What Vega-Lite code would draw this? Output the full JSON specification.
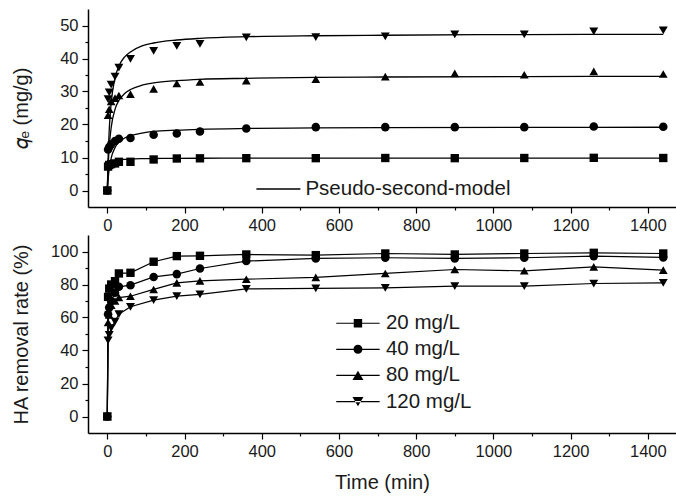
{
  "$schema": "https://vega.github.io/schema/vega-lite/v6.json",
  "padding": {"left": 10, "top": 9, "right": 0, "bottom": 0},
  "spacing": 1,
  "config": {
    "view": {"stroke": null},
    "font": "Liberation Sans",
    "axis": {
      "domainColor": "black", "domainWidth": 1.5, "tickColor": "black", "tickWidth": 1.2,
      "labelFont": "Liberation Sans", "labelFontSize": 16.5, "labelColor": "#1a1a1a", "labelOverlap": false, "labelBound": false,
      "titleFont": "Liberation Sans", "titleFontSize": 20, "titleFontWeight": "normal", "titleColor": "#1a1a1a",
      "grid": false, "labelPadding": 4, "tickSize": 6, "tickCount": 40
    }
  },
  "datasets": {
    "qe": [
      {"series":"20 mg/L","t":0,"value":0},{"series":"20 mg/L","t":2,"value":7.25},{"series":"20 mg/L","t":5,"value":7.75},{"series":"20 mg/L","t":10,"value":8.0},{"series":"20 mg/L","t":20,"value":8.2},{"series":"20 mg/L","t":30,"value":8.7},{"series":"20 mg/L","t":60,"value":8.7},{"series":"20 mg/L","t":120,"value":9.4},{"series":"20 mg/L","t":180,"value":9.7},{"series":"20 mg/L","t":240,"value":9.75},{"series":"20 mg/L","t":360,"value":9.8},{"series":"20 mg/L","t":540,"value":9.8},{"series":"20 mg/L","t":720,"value":9.85},{"series":"20 mg/L","t":900,"value":9.8},{"series":"20 mg/L","t":1080,"value":9.85},{"series":"20 mg/L","t":1260,"value":9.9},{"series":"20 mg/L","t":1440,"value":9.85},
      {"series":"40 mg/L","t":0,"value":0},{"series":"40 mg/L","t":2,"value":12.4},{"series":"40 mg/L","t":5,"value":13.2},{"series":"40 mg/L","t":10,"value":14.0},{"series":"40 mg/L","t":20,"value":15.0},{"series":"40 mg/L","t":30,"value":15.7},{"series":"40 mg/L","t":60,"value":15.9},{"series":"40 mg/L","t":120,"value":16.9},{"series":"40 mg/L","t":180,"value":17.3},{"series":"40 mg/L","t":240,"value":17.9},{"series":"40 mg/L","t":360,"value":18.8},{"series":"40 mg/L","t":540,"value":19.2},{"series":"40 mg/L","t":720,"value":19.2},{"series":"40 mg/L","t":900,"value":19.2},{"series":"40 mg/L","t":1080,"value":19.2},{"series":"40 mg/L","t":1260,"value":19.4},{"series":"40 mg/L","t":1440,"value":19.3},
      {"series":"80 mg/L","t":0,"value":0},{"series":"80 mg/L","t":2,"value":22.8},{"series":"80 mg/L","t":5,"value":24.6},{"series":"80 mg/L","t":10,"value":27.0},{"series":"80 mg/L","t":20,"value":28.0},{"series":"80 mg/L","t":30,"value":28.8},{"series":"80 mg/L","t":60,"value":29.2},{"series":"80 mg/L","t":120,"value":30.8},{"series":"80 mg/L","t":180,"value":32.4},{"series":"80 mg/L","t":240,"value":32.9},{"series":"80 mg/L","t":360,"value":33.3},{"series":"80 mg/L","t":540,"value":33.7},{"series":"80 mg/L","t":720,"value":34.5},{"series":"80 mg/L","t":900,"value":35.5},{"series":"80 mg/L","t":1080,"value":35.1},{"series":"80 mg/L","t":1260,"value":36.1},{"series":"80 mg/L","t":1440,"value":35.3},
      {"series":"120 mg/L","t":0,"value":0},{"series":"120 mg/L","t":2,"value":27.7},{"series":"120 mg/L","t":5,"value":29.7},{"series":"120 mg/L","t":10,"value":32.1},{"series":"120 mg/L","t":20,"value":34.5},{"series":"120 mg/L","t":30,"value":37.2},{"series":"120 mg/L","t":60,"value":39.9},{"series":"120 mg/L","t":120,"value":42.3},{"series":"120 mg/L","t":180,"value":43.8},{"series":"120 mg/L","t":240,"value":44.4},{"series":"120 mg/L","t":360,"value":46.4},{"series":"120 mg/L","t":540,"value":46.5},{"series":"120 mg/L","t":720,"value":46.7},{"series":"120 mg/L","t":900,"value":47.3},{"series":"120 mg/L","t":1080,"value":47.3},{"series":"120 mg/L","t":1260,"value":48.2},{"series":"120 mg/L","t":1440,"value":48.5}
    ],
    "fit": [
      {"series":"20 mg/L","t":0,"value":0},{"series":"20 mg/L","t":2,"value":4.96},{"series":"20 mg/L","t":5,"value":7.06},{"series":"20 mg/L","t":10,"value":8.23},{"series":"20 mg/L","t":20,"value":8.97},{"series":"20 mg/L","t":30,"value":9.24},{"series":"20 mg/L","t":45,"value":9.44},{"series":"20 mg/L","t":60,"value":9.54},{"series":"20 mg/L","t":90,"value":9.64},{"series":"20 mg/L","t":120,"value":9.69},{"series":"20 mg/L","t":180,"value":9.74},{"series":"20 mg/L","t":240,"value":9.77},{"series":"20 mg/L","t":360,"value":9.8},{"series":"20 mg/L","t":540,"value":9.82},{"series":"20 mg/L","t":720,"value":9.83},{"series":"20 mg/L","t":1080,"value":9.84},{"series":"20 mg/L","t":1440,"value":9.84},
      {"series":"40 mg/L","t":0,"value":0},{"series":"40 mg/L","t":2,"value":3.3},{"series":"40 mg/L","t":5,"value":6.6},{"series":"40 mg/L","t":10,"value":9.8},{"series":"40 mg/L","t":20,"value":13.0},{"series":"40 mg/L","t":30,"value":14.6},{"series":"40 mg/L","t":45,"value":15.9},{"series":"40 mg/L","t":60,"value":16.6},{"series":"40 mg/L","t":90,"value":17.4},{"series":"40 mg/L","t":120,"value":17.9},{"series":"40 mg/L","t":180,"value":18.3},{"series":"40 mg/L","t":240,"value":18.55},{"series":"40 mg/L","t":360,"value":18.8},{"series":"40 mg/L","t":540,"value":18.96},{"series":"40 mg/L","t":720,"value":19.05},{"series":"40 mg/L","t":1080,"value":19.13},{"series":"40 mg/L","t":1440,"value":19.17},
      {"series":"80 mg/L","t":0,"value":0},{"series":"80 mg/L","t":2,"value":6.8},{"series":"80 mg/L","t":5,"value":13.1},{"series":"80 mg/L","t":10,"value":19.05},{"series":"80 mg/L","t":20,"value":24.6},{"series":"80 mg/L","t":30,"value":27.3},{"series":"80 mg/L","t":45,"value":29.4},{"series":"80 mg/L","t":60,"value":30.6},{"series":"80 mg/L","t":90,"value":31.9},{"series":"80 mg/L","t":120,"value":32.6},{"series":"80 mg/L","t":180,"value":33.3},{"series":"80 mg/L","t":240,"value":33.7},{"series":"80 mg/L","t":360,"value":34.0},{"series":"80 mg/L","t":540,"value":34.3},{"series":"80 mg/L","t":720,"value":34.4},{"series":"80 mg/L","t":1080,"value":34.53},{"series":"80 mg/L","t":1440,"value":34.6},
      {"series":"120 mg/L","t":0,"value":0},{"series":"120 mg/L","t":2,"value":9.6},{"series":"120 mg/L","t":5,"value":18.4},{"series":"120 mg/L","t":10,"value":26.5},{"series":"120 mg/L","t":20,"value":34.1},{"series":"120 mg/L","t":30,"value":37.7},{"series":"120 mg/L","t":45,"value":40.5},{"series":"120 mg/L","t":60,"value":42.0},{"series":"120 mg/L","t":90,"value":43.8},{"series":"120 mg/L","t":120,"value":44.7},{"series":"120 mg/L","t":180,"value":45.6},{"series":"120 mg/L","t":240,"value":46.1},{"series":"120 mg/L","t":360,"value":46.6},{"series":"120 mg/L","t":540,"value":46.9},{"series":"120 mg/L","t":720,"value":47.05},{"series":"120 mg/L","t":1080,"value":47.26},{"series":"120 mg/L","t":1440,"value":47.34}
    ],
    "removal": [
      {"series":"20 mg/L","t":0,"value":0},{"series":"20 mg/L","t":2,"value":72.5},{"series":"20 mg/L","t":5,"value":77.5},{"series":"20 mg/L","t":10,"value":80.0},{"series":"20 mg/L","t":20,"value":82.0},{"series":"20 mg/L","t":30,"value":86.7},{"series":"20 mg/L","t":60,"value":87.1},{"series":"20 mg/L","t":120,"value":93.8},{"series":"20 mg/L","t":180,"value":97.2},{"series":"20 mg/L","t":240,"value":97.4},{"series":"20 mg/L","t":360,"value":98.2},{"series":"20 mg/L","t":540,"value":97.8},{"series":"20 mg/L","t":720,"value":98.8},{"series":"20 mg/L","t":900,"value":98.2},{"series":"20 mg/L","t":1080,"value":98.8},{"series":"20 mg/L","t":1260,"value":99.2},{"series":"20 mg/L","t":1440,"value":98.8},
      {"series":"40 mg/L","t":0,"value":0},{"series":"40 mg/L","t":2,"value":62},{"series":"40 mg/L","t":5,"value":66},{"series":"40 mg/L","t":10,"value":70},{"series":"40 mg/L","t":20,"value":75},{"series":"40 mg/L","t":30,"value":78.6},{"series":"40 mg/L","t":60,"value":79.6},{"series":"40 mg/L","t":120,"value":84.6},{"series":"40 mg/L","t":180,"value":86.3},{"series":"40 mg/L","t":240,"value":89.7},{"series":"40 mg/L","t":360,"value":94.2},{"series":"40 mg/L","t":540,"value":95.8},{"series":"40 mg/L","t":720,"value":96.2},{"series":"40 mg/L","t":900,"value":95.8},{"series":"40 mg/L","t":1080,"value":96.2},{"series":"40 mg/L","t":1260,"value":97.2},{"series":"40 mg/L","t":1440,"value":96.4},
      {"series":"80 mg/L","t":0,"value":0},{"series":"80 mg/L","t":2,"value":57},{"series":"80 mg/L","t":5,"value":61.5},{"series":"80 mg/L","t":10,"value":67.5},{"series":"80 mg/L","t":20,"value":70},{"series":"80 mg/L","t":30,"value":72.1},{"series":"80 mg/L","t":60,"value":72.9},{"series":"80 mg/L","t":120,"value":77.0},{"series":"80 mg/L","t":180,"value":81.0},{"series":"80 mg/L","t":240,"value":82.2},{"series":"80 mg/L","t":360,"value":83.2},{"series":"80 mg/L","t":540,"value":84.3},{"series":"80 mg/L","t":720,"value":86.7},{"series":"80 mg/L","t":900,"value":89.1},{"series":"80 mg/L","t":1080,"value":88.3},{"series":"80 mg/L","t":1260,"value":90.7},{"series":"80 mg/L","t":1440,"value":88.7},
      {"series":"120 mg/L","t":0,"value":0},{"series":"120 mg/L","t":2,"value":46.2},{"series":"120 mg/L","t":5,"value":49.5},{"series":"120 mg/L","t":10,"value":53.5},{"series":"120 mg/L","t":20,"value":57.5},{"series":"120 mg/L","t":30,"value":62},{"series":"120 mg/L","t":60,"value":66.5},{"series":"120 mg/L","t":120,"value":70.5},{"series":"120 mg/L","t":180,"value":73},{"series":"120 mg/L","t":240,"value":74},{"series":"120 mg/L","t":360,"value":77.3},{"series":"120 mg/L","t":540,"value":77.6},{"series":"120 mg/L","t":720,"value":77.9},{"series":"120 mg/L","t":900,"value":79.0},{"series":"120 mg/L","t":1080,"value":79.0},{"series":"120 mg/L","t":1260,"value":80.6},{"series":"120 mg/L","t":1440,"value":81.0}
    ]
  },
  "resolve": {
    "scale": {"shape": "independent", "stroke": "independent", "size": "independent"},
    "legend": {"shape": "independent", "stroke": "independent"}
  },
  "vconcat": [
    {
      "width": 588, "height": 198,
      "layer": [
        {
          "mark": {"type": "rule", "color": "black", "strokeWidth": 1.5},
          "encoding": {"y": {"datum": 55, "type": "quantitative"}}
        },
        {
          "data": {"name": "fit"},
          "mark": {"type": "line", "interpolate": "monotone", "strokeWidth": 1.3},
          "encoding": {
            "x": {"field": "t", "type": "quantitative", "scale": {"domain": [-50, 1473], "nice": false, "zero": false},
              "axis": {"values": [0,100,200,300,400,500,600,700,800,900,1000,1100,1200,1300,1400], "tickCount": 40, "labelOverlap": false, "labelExpr": "datum.value % 200 === 0 ? '' + datum.value : ''", "tickSize": {"condition": {"test": "datum.value % 200 !== 0", "value": 3}, "value": 6}, "title": null}},
            "y": {"field": "value", "type": "quantitative", "scale": {"domain": [-5, 55], "nice": false, "zero": false},
              "axis": {"values": [0,5,10,15,20,25,30,35,40,45,50], "tickCount": 40, "labelOverlap": false, "labelExpr": "datum.value % 10 === 0 ? '' + datum.value : ''", "tickSize": {"condition": {"test": "datum.value % 10 !== 0", "value": 3}, "value": 6}, "title": "𝑞ₑ (mg/g)", "titleX": -67, "titleBaseline": "middle"}},
            "detail": {"field": "series"},
            "stroke": {"datum": "Pseudo-second-model", "scale": {"range": ["black"]},
              "legend": {"orient": "none", "legendX": 167.4, "legendY": 157, "title": null, "symbolType": "stroke", "symbolSize": 1936, "symbolStrokeWidth": 1.3, "symbolStrokeColor": "black", "labelOffset": 4, "labelLimit": 0, "labelFontSize": 20.5, "labelFont": "Liberation Sans", "labelColor": "#1a1a1a", "padding": 0}}
          }
        },
        {
          "data": {"name": "qe"},
          "mark": {"type": "point", "filled": true, "opacity": 1, "color": "black"},
          "encoding": {
            "x": {"field": "t", "type": "quantitative"},
            "y": {"field": "value", "type": "quantitative"},
            "shape": {"field": "series", "type": "nominal", "scale": {"domain": ["20 mg/L","40 mg/L","80 mg/L","120 mg/L"], "range": ["square","circle","triangle-up","triangle-down"]}, "legend": null},
            "size": {"field": "series", "type": "nominal", "scale": {"domain": ["20 mg/L","40 mg/L","80 mg/L","120 mg/L"], "range": [70, 80, 120, 120]}, "legend": null}
          }
        }
      ]
    },
    {
      "width": 588, "height": 198,
      "resolve": {"scale": {"shape": "independent"}, "legend": {"shape": "independent"}},
      "layer": [
        {
          "mark": {"type": "rule", "color": "black", "strokeWidth": 1.5},
          "encoding": {"y": {"datum": 110, "type": "quantitative"}}
        },
        {
          "data": {"name": "removal"},
          "mark": {"type": "line", "color": "black", "strokeWidth": 1.2},
          "encoding": {
            "x": {"field": "t", "type": "quantitative", "scale": {"domain": [-50, 1473], "nice": false, "zero": false},
              "axis": {"values": [0,100,200,300,400,500,600,700,800,900,1000,1100,1200,1300,1400], "tickCount": 40, "labelOverlap": false, "labelExpr": "datum.value % 200 === 0 ? '' + datum.value : ''", "tickSize": {"condition": {"test": "datum.value % 200 !== 0", "value": 3}, "value": 6}, "title": "Time (min)", "titlePadding": 13}},
            "y": {"field": "value", "type": "quantitative", "scale": {"domain": [-10, 110], "nice": false, "zero": false},
              "axis": {"values": [0,10,20,30,40,50,60,70,80,90,100], "tickCount": 40, "labelOverlap": false, "labelExpr": "datum.value % 20 === 0 ? '' + datum.value : ''", "tickSize": {"condition": {"test": "datum.value % 20 !== 0", "value": 3}, "value": 6}, "title": "HA removal rate (%)", "titleX": -67, "titleBaseline": "middle"}},
            "detail": {"field": "series"}
          }
        },
        {
          "data": {"name": "removal"},
          "mark": {"type": "point", "filled": true, "opacity": 1, "color": "black"},
          "encoding": {
            "x": {"field": "t", "type": "quantitative"},
            "y": {"field": "value", "type": "quantitative"},
            "shape": {"field": "series", "type": "nominal", "scale": {"domain": ["20 mg/L","40 mg/L","80 mg/L","120 mg/L"], "range": ["square","circle","triangle-up","triangle-down"]}, "legend": null},
            "size": {"field": "series", "type": "nominal", "scale": {"domain": ["20 mg/L","40 mg/L","80 mg/L","120 mg/L"], "range": [70, 80, 120, 120]}, "legend": null}
          }
        },
        {
          "data": {"name": "removal"},
          "transform": [{"filter": "datum.t < 0"}],
          "mark": {"type": "point", "filled": true, "opacity": 1, "color": "black"},
          "encoding": {
            "x": {"field": "t", "type": "quantitative"},
            "y": {"field": "value", "type": "quantitative"},
            "shape": {"field": "series", "type": "nominal",
              "scale": {"domain": ["20 mg/L","40 mg/L","80 mg/L","120 mg/L"],
                "range": [
                  "M-4.34,-0.12L4.34,-0.12L4.34,0.12L-4.34,0.12ZM-0.84,-0.84L0.84,-0.84L0.84,0.84L-0.84,0.84Z",
                  "M-4.34,-0.12L4.34,-0.12L4.34,0.12L-4.34,0.12ZM0.9,0A0.9,0.9,0,1,1,-0.9,0A0.9,0.9,0,1,1,0.9,0Z",
                  "M-4.34,-0.12L4.34,-0.12L4.34,0.12L-4.34,0.12ZM0,-0.95L1.1,0.9L-1.1,0.9Z",
                  "M-4.34,-0.12L4.34,-0.12L4.34,0.12L-4.34,0.12ZM0,0.95L1.1,-0.9L-1.1,-0.9Z"
                ]},
              "legend": {"orient": "none", "legendX": 259.7, "legendY": 78, "title": null, "symbolSize": 100, "symbolFillColor": "black", "symbolStrokeWidth": 0, "symbolOpacity": 1, "labelOffset": 17.7, "rowPadding": 5.1, "labelFontSize": 20.5, "labelFont": "Liberation Sans", "labelColor": "#1a1a1a", "labelLimit": 0, "padding": 0}}
          }
        }
      ]
    }
  ]
}
